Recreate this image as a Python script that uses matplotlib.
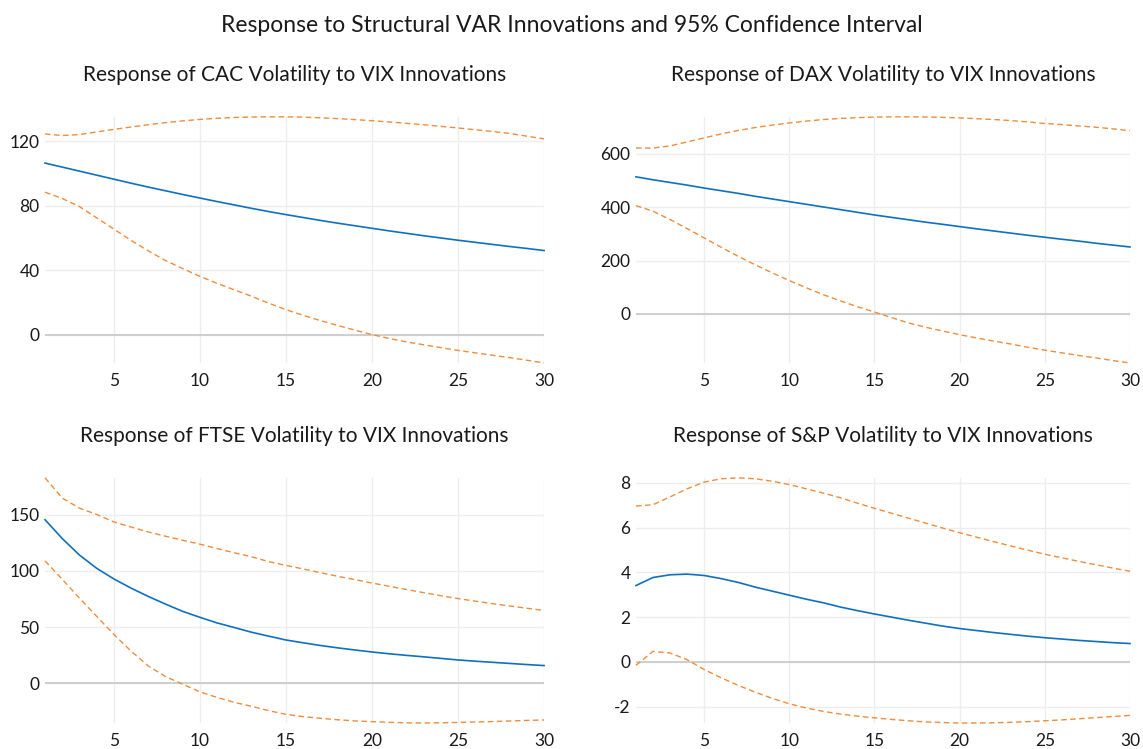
import matplotlib.pyplot as plt
from matplotlib.ticker import FixedLocator

plt.rcParams['font.family'] = ['Lato', 'DejaVu Sans']
plt.rcParams['axes.unicode_minus'] = False

periods = list(range(1, 31))

# CAC
cac_resp = [106.5, 104, 101.5, 99, 96.5, 94, 91.6, 89.3, 87, 84.8, 82.6, 80.5, 78.4, 76.4, 74.5,
            72.7, 70.9, 69.2, 67.6, 66, 64.4, 62.9, 61.4, 60, 58.6, 57.3, 56, 54.7, 53.5, 52.2]
cac_upper = [124.6, 123.6, 124.2, 125.8, 127.4, 128.9, 130.3, 131.6, 132.7, 133.6, 134.3, 134.8, 135.1, 135.2, 135.2,
             135.0, 134.6, 134.1, 133.5, 132.8, 132.0, 131.2, 130.3, 129.3, 128.3, 127.2, 126.1, 124.9, 123.2, 121.5]
cac_lower = [88.4, 84.5, 79.5, 72.5, 65.5, 58.5, 52, 46, 41, 36.2, 31.8, 27.8, 23.8, 19.5, 15.5,
             12, 8.7, 5.7, 2.8, 0, -2.4, -4.5, -6.3, -8.1, -9.8, -11.3, -12.8, -14.3, -15.9, -17.6]

# DAX
dax_resp = [514, 503, 493, 483, 472, 462, 452, 441, 431, 421, 411, 401, 391, 381, 371,
            362, 353, 344, 336, 327.5, 319, 311, 303, 295, 287.5, 280, 273, 265, 258, 251]
dax_upper = [622, 622, 630, 645, 660, 675, 688, 699, 708, 716, 723, 729, 733, 736, 738,
             739, 739, 738.5, 737, 735, 732, 729, 725, 720, 714, 710, 705, 700, 694, 687]
dax_lower = [406, 385, 354, 320, 285, 250, 216, 184, 154, 125, 98, 72, 49, 27, 7,
             -14, -34, -50, -64, -78, -90, -102, -113, -125, -136, -146, -156, -165, -175, -184]

# FTSE
ftse_resp = [145.7, 128.9, 114.2, 102.4, 92.9, 84.7, 77.3, 70.5, 64, 58.7, 53.7, 49.6, 45.4, 41.9, 38.5,
             36, 33.6, 31.5, 29.6, 27.8, 26.2, 24.8, 23.5, 22.1, 20.7, 19.6, 18.6, 17.6, 16.6, 15.7]
ftse_upper = [183, 165, 156, 150.4, 143.7, 139.2, 134.8, 131, 127.4, 123.9, 120, 116.2, 112.7, 108.3, 105,
              101.8, 98.5, 95.3, 92.3, 89.3, 86.4, 83.5, 80.7, 78, 75.4, 73.1, 70.9, 68.8, 66.8, 64.8]
ftse_lower = [109, 92.6, 75.8, 59.6, 43.4, 28.6, 15.3, 5.9, -0.9, -7.7, -12.7, -17.1, -20.6, -24.5, -27.8,
              -29.8, -31.3, -32.6, -33.6, -34.3, -34.9, -35.3, -35.5, -35.3, -35, -34.6, -34.2, -33.7, -33.2, -32.8]

# S&P
sp_resp = [3.41, 3.77, 3.89, 3.92, 3.86, 3.72, 3.55, 3.34, 3.16, 2.98, 2.8, 2.64, 2.45, 2.29, 2.14,
           2.0, 1.86, 1.73, 1.6, 1.49, 1.4, 1.31, 1.23, 1.15, 1.08, 1.02, 0.96, 0.91, 0.86, 0.82]
sp_upper = [6.96, 7.02, 7.37, 7.73, 8.03, 8.18, 8.22, 8.18, 8.07, 7.92, 7.73, 7.54, 7.33, 7.09, 6.86,
            6.64, 6.42, 6.2, 5.98, 5.77, 5.57, 5.37, 5.18, 4.99, 4.81, 4.65, 4.49, 4.34, 4.19, 4.05]
sp_lower = [-0.15, 0.47, 0.40, 0.10, -0.34, -0.71, -1.05, -1.35, -1.63, -1.87, -2.06, -2.21, -2.33, -2.42, -2.5,
            -2.57, -2.63, -2.68, -2.71, -2.73, -2.73, -2.72, -2.70, -2.67, -2.63, -2.59, -2.54, -2.49, -2.44, -2.39]

titles = ['Response of CAC Volatility to VIX Innovations',
          'Response of DAX Volatility to VIX Innovations',
          'Response of FTSE Volatility to VIX Innovations',
          'Response of S&P Volatility to VIX Innovations']
yticks = [[0, 40, 80, 120], [0, 200, 400, 600], [0, 50, 100, 150], [-2, 0, 2, 4, 6, 8]]
xticks = [5, 10, 15, 20, 25, 30]
series = [(cac_resp, cac_upper, cac_lower), (dax_resp, dax_upper, dax_lower),
          (ftse_resp, ftse_upper, ftse_lower), (sp_resp, sp_upper, sp_lower)]

# axes boxes in figure fractions (left, bottom, width, height)
boxes = [(0.0394, 0.5154, 0.4366, 0.3286), (0.5564, 0.5154, 0.4322, 0.3286),
         (0.0394, 0.0347, 0.4366, 0.3273), (0.5564, 0.0347, 0.4322, 0.3273)]

fig = plt.figure(figsize=(11.43, 7.49), dpi=100)
fig.suptitle('Response to Structural VAR Innovations and 95% Confidence Interval',
             y=0.98, fontsize=16.5, color='#1a1a1a')

for i in range(4):
    ax = fig.add_axes(boxes[i])
    resp, up, lo = series[i]
    ax.plot(periods, up, color='#F08C3C', lw=1.0, ls=(0, (4, 2.5)), zorder=3, clip_on=False)
    ax.plot(periods, lo, color='#F08C3C', lw=1.0, ls=(0, (4, 2.5)), zorder=3, clip_on=False)
    ax.plot(periods, resp, color='#1070C0', lw=1.2, zorder=4, clip_on=False)
    ax.axhline(0, color='#C8C8C8', lw=1.2, zorder=2)
    ax.set_xlim(1, 30)
    ax.set_ylim(min(lo), max(up))
    ax.xaxis.set_major_locator(FixedLocator(xticks))
    ax.yaxis.set_major_locator(FixedLocator(yticks[i]))
    ax.grid(True, color='#EDEDED', lw=1.0, zorder=0)
    for s in ax.spines.values():
        s.set_visible(False)
    ax.tick_params(length=0, labelsize=12.5, colors='#1a1a1a')
    ax.tick_params(axis='x', pad=7.5)
    ax.tick_params(axis='y', pad=4)
    ax.set_title(titles[i], fontsize=15, color='#1a1a1a', pad=26)

fig.savefig('out.png', dpi=100)
